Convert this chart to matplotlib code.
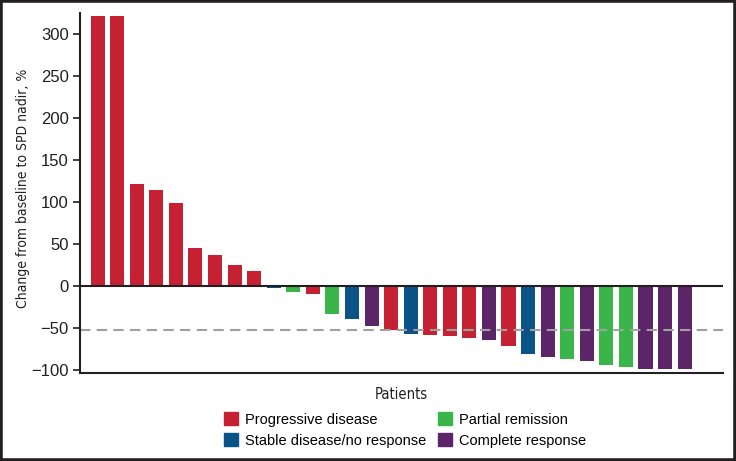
import numpy as np
import matplotlib.pyplot as plt
from matplotlib.patches import Patch, Rectangle

# response category per patient, sorted as in the waterfall
responses = ['PD', 'PD', 'PD', 'PD', 'PD', 'PD', 'PD', 'PD', 'PD',
             'SD', 'PR', 'PD', 'PR', 'SD', 'CR', 'PD', 'SD', 'PD', 'PD', 'PD',
             'CR', 'PD', 'SD', 'CR', 'PR', 'CR', 'PR', 'PR', 'CR', 'CR', 'CR']
changes = [322, 322, 121, 114, 99, 45, 37, 25, 18,
           -2.5, -8, -10, -33.5, -40, -48, -52.5, -57, -58.5, -60, -62,
           -65, -72, -81.5, -85, -87.5, -89.5, -95, -97, -99, -99, -99]
threshold = -53

labels = {'PD': 'Progressive disease', 'SD': 'Stable disease/no response',
          'PR': 'Partial remission', 'CR': 'Complete response'}
colors = {'PD': '#C62033', 'SD': '#0B5386', 'PR': '#3AB54A', 'CR': '#5C2568'}

plt.rcParams['font.family'] = ['Liberation Sans', 'DejaVu Sans']

fig = plt.figure(figsize=(7.36, 4.61), dpi=100)
ax = fig.add_axes([80/736, 1 - 373/461, (723-80)/736, (373-13)/461])

x = np.arange(len(changes))
ax.bar(x, changes, width=0.72, color=[colors[r] for r in responses])
ax.axhline(0, color='#231F20', lw=1.5, zorder=3)
ax.axhline(threshold, color='#A0A0A0', lw=1.5, ls=(0, (5, 3)), zorder=1)

ax.set_xlim(-0.9, 31.96)
ax.set_ylim(-104, 325)
ax.set_yticks([-100, -50, 0, 50, 100, 150, 200, 250, 300])
ax.set_yticklabels(['\u2212100', '\u221250', '0', '50', '100', '150', '200', '250', '300'])
ax.set_xticks([])
for s in ['top', 'right']:
    ax.spines[s].set_visible(False)
for s in ['left', 'bottom']:
    ax.spines[s].set_linewidth(1.5)
    ax.spines[s].set_color('#231F20')
ax.tick_params(axis='y', length=5, width=1.2, labelsize=12, colors='#231F20', pad=3)

ax.set_ylabel('Change from baseline to SPD nadir, %', family='DejaVu Sans',
              fontstretch='condensed', fontsize=10, color='#231F20')
ax.yaxis.set_label_coords(-0.078, 0.5125)
ax.set_xlabel('Patients', family='DejaVu Sans', fontstretch='condensed',
              fontsize=10.5, color='#231F20', labelpad=10)

order = ['PD', 'SD', 'PR', 'CR']
handles = [Patch(color=colors[k], label=labels[k]) for k in order]
fig.legend(handles=handles, ncol=2, frameon=False, loc='center',
           bbox_to_anchor=(405/736, 1 - 430/461), fontsize=10.5,
           handlelength=0.95, handleheight=0.95, handletextpad=0.5,
           columnspacing=0.8, labelspacing=0.45, borderpad=0)

# dark frame around the figure
fig.patches.append(Rectangle((0, 0), 1, 1, transform=fig.transFigure, fill=False,
                             edgecolor='#231F20', lw=4, zorder=10))

fig.savefig('out.png', dpi=100)
